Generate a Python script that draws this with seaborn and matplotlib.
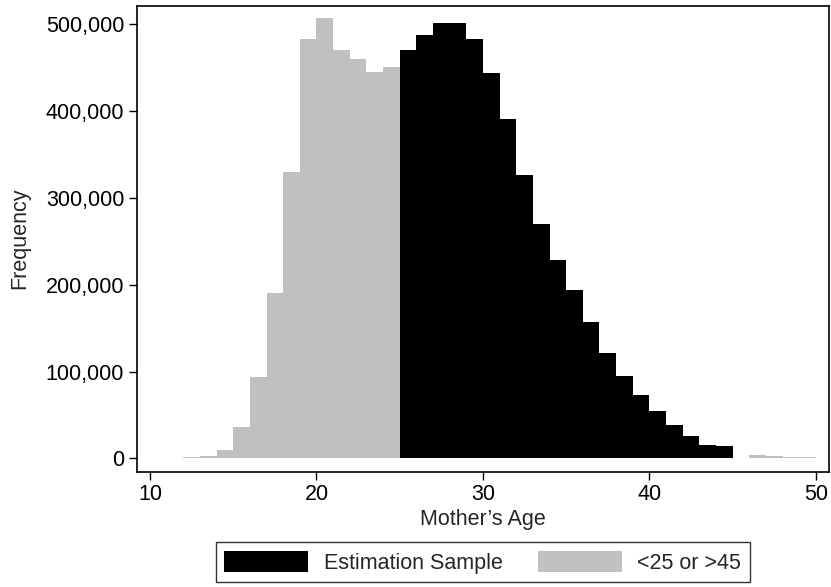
import numpy as np
import pandas as pd
import matplotlib
matplotlib.use("Agg")
import matplotlib.pyplot as plt
from matplotlib.patches import Patch
from matplotlib.ticker import FuncFormatter
import seaborn as sns

# Data
ages = [12, 13, 14, 15, 16, 17, 18, 19, 20, 21, 22, 23, 24,
        25, 26, 27, 28, 29, 30, 31, 32, 33, 34, 35, 36, 37, 38, 39, 40, 41, 42, 43, 44,
        46, 47, 48, 49]
counts = [1000, 2300, 9600, 36000, 94000, 191000, 330000, 483000, 507000, 470000, 460000, 445000, 451000,
          471000, 488000, 501000, 502000, 483000, 444000, 391000, 327000, 270000, 228000, 194000,
          157000, 121000, 95000, 73000, 55000, 38000, 26000, 15000, 14000,
          4000, 3000, 2000, 2000]
groups = ["Estimation Sample" if 25 <= a <= 45 else "<25 or >45" for a in ages]
legend_labels = ["Estimation Sample", "<25 or >45"]
colors = {"Estimation Sample": "#000000", "<25 or >45": "#c0c0c0"}
x_ticks = [10, 20, 30, 40, 50]
y_ticks = [0, 100000, 200000, 300000, 400000, 500000]

df = pd.DataFrame({"age": ages, "count": counts, "group": groups})

sns.set_style("ticks")
plt.rcParams["font.family"] = ["Liberation Sans", "DejaVu Sans"]

fig = plt.figure(figsize=(8.31, 5.87), dpi=100)
ax = fig.add_axes([0.1645, 0.1964, 0.8331, 0.7942])

sns.histplot(data=df, x="age", weights="count", hue="group", binwidth=1, binrange=(12, 50),
             palette=colors, alpha=1, linewidth=0, legend=False, ax=ax, multiple="layer")

ax.set_xlim(9.2, 50.79)
ax.set_ylim(-15400, 521700)
ax.set_xticks(x_ticks)
ax.set_yticks(y_ticks)
ax.yaxis.set_major_formatter(FuncFormatter(lambda v, p: f"{int(v):,}"))
ax.tick_params(axis="both", labelsize=15.5, length=6, width=1, pad=3, color="black", labelcolor="black")
ax.set_xlabel("Mother\u2019s Age", fontsize=15.5, labelpad=3)
ax.set_ylabel("Frequency", fontsize=15.5, labelpad=11)
for s in ax.spines.values():
    s.set_visible(True)
    s.set_linewidth(1.2)
    s.set_color("black")

handles = [Patch(facecolor=colors[l], edgecolor="none") for l in legend_labels]
leg = ax.legend(handles, legend_labels, loc="upper center", bbox_to_anchor=(0.5, -0.151),
                ncol=2, fontsize=15.5, frameon=True, fancybox=False, handlelength=3.9,
                handleheight=1.12, handletextpad=0.7, columnspacing=1.67, borderpad=0.4,
                borderaxespad=0)
leg.get_frame().set_edgecolor("black")
leg.get_frame().set_linewidth(1.0)

fig.savefig("out.png", dpi=100)
